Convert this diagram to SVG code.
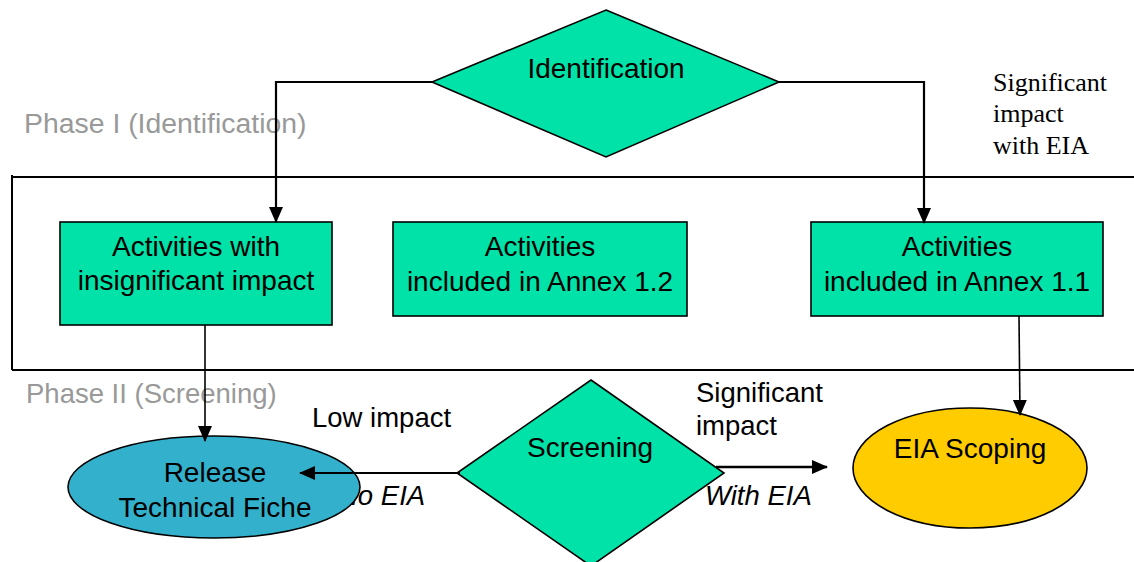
<svg xmlns="http://www.w3.org/2000/svg" width="1134" height="562" viewBox="0 0 1134 562">
  <style>
    .lbl { font-family: "Liberation Sans", Arial, sans-serif; font-size: 28px; fill: #000; text-anchor: middle; }
    .phase { font-family: "Liberation Sans", Arial, sans-serif; font-size: 27.5px; fill: #999999; }
    .edge { font-family: "Liberation Sans", Arial, sans-serif; font-size: 27.5px; fill: #000; }
    .ital { font-style: italic; }
    .serif { font-family: "Liberation Serif", "Times New Roman", serif; font-size: 26px; fill: #000; }
    .green { fill: #00E2A8; stroke: #000; stroke-width: 1.6; }
    .frame { stroke: #000; stroke-width: 2; fill: none; }
    .conn { stroke: #000; fill: none; }
  </style>
  <defs>
    <marker id="arrow" markerUnits="userSpaceOnUse" markerWidth="16" markerHeight="16" viewBox="0 0 16 16" refX="15" refY="8" orient="auto">
      <path d="M0,1 L16,8 L0,15 z" fill="#000"/>
    </marker>
  </defs>

  <rect x="0" y="0" width="1134" height="562" fill="#fff"/>

  <!-- phase band -->
  <g id="phase-band">
    <line class="frame" x1="12" y1="177" x2="1134" y2="177"/>
    <line class="frame" x1="12" y1="175" x2="12" y2="370"/>
    <line class="frame" x1="12" y1="370" x2="1134" y2="370"/>
    <text class="phase" x="24" y="133" style="font-size:28.4px">Phase I (Identification)</text>
    <text class="phase" x="26" y="403">Phase II (Screening)</text>
  </g>

  <!-- label partly hidden by the Release ellipse -->
  <text class="edge ital" x="338" y="505">No EIA</text>

  <g id="identification">
    <polygon class="green" points="606,10 779,82 606,157 432,82"/>
    <text class="lbl" x="606" y="78">Identification</text>
  </g>

  <g id="insignificant">
    <rect class="green" x="60" y="222" width="272" height="103"/>
    <text class="lbl" x="196" y="256">Activities with</text>
    <text class="lbl" x="196" y="290">insignificant impact</text>
  </g>

  <g id="annex12">
    <rect class="green" x="393" y="222" width="294" height="94"/>
    <text class="lbl" x="540" y="256">Activities</text>
    <text class="lbl" x="540" y="291">included in Annex 1.2</text>
  </g>

  <g id="annex11">
    <rect class="green" x="811" y="222" width="292" height="94"/>
    <text class="lbl" x="957" y="256">Activities</text>
    <text class="lbl" x="957" y="291">included in Annex 1.1</text>
  </g>

  <g id="release">
    <ellipse cx="214" cy="487" rx="146" ry="51" fill="#33B1CC" stroke="#000" stroke-width="1.6"/>
    <text class="lbl" x="215" y="482">Release</text>
    <text class="lbl" x="215" y="517">Technical Fiche</text>
  </g>

  <g id="screening">
    <polygon class="green" points="591,380 724,473 591,566 457,473"/>
    <text class="lbl" x="590" y="457">Screening</text>
  </g>

  <g id="eia-scoping">
    <ellipse cx="970" cy="468" rx="117" ry="60" fill="#FFCC00" stroke="#000" stroke-width="1.6"/>
    <text class="lbl" x="970" y="458">EIA Scoping</text>
  </g>

  <g id="connectors">
    <path class="conn" stroke-width="2.2" d="M432,82 H276 V222" marker-end="url(#arrow)"/>
    <path class="conn" stroke-width="2.2" d="M779,82 H924 V223" marker-end="url(#arrow)"/>
    <path class="conn" stroke-width="1.6" d="M205,325 V441" marker-end="url(#arrow)"/>
    <path class="conn" stroke-width="1.6" d="M1019,316 L1020,415" marker-end="url(#arrow)"/>
    <path class="conn" stroke-width="1.8" d="M460,473 H300" marker-end="url(#arrow)"/>
    <path class="conn" stroke-width="2.6" d="M716,467 H827" marker-end="url(#arrow)"/>
  </g>

  <g id="edge-labels">
    <text class="edge" x="312" y="427">Low impact</text>
    <text class="edge" x="696" y="402">Significant</text>
    <text class="edge" x="696" y="435">impact</text>
    <text class="edge ital" x="705" y="505">With EIA</text>
    <text class="serif" x="993" y="91">Significant</text>
    <text class="serif" x="993" y="122">impact</text>
    <text class="serif" x="993" y="154">with EIA</text>
  </g>
</svg>
